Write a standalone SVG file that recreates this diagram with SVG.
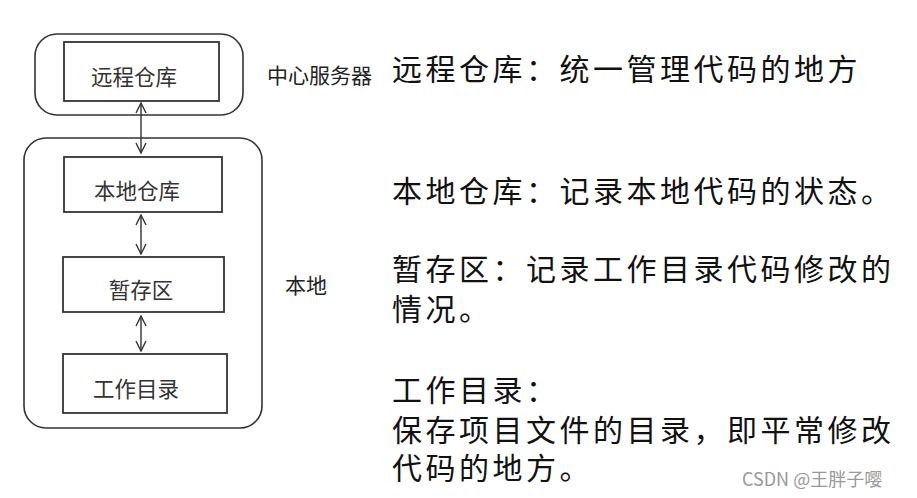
<svg xmlns="http://www.w3.org/2000/svg" width="917" height="498" viewBox="0 0 917 498">
<style>
.grp{fill:none;stroke:#333;stroke-width:1.6}
.box{fill:#fff;stroke:#333;stroke-width:1.8}
.bt{font-family:"Noto Sans CJK SC",sans-serif;font-size:21.5px;fill:#333;text-anchor:middle}
.lb{font-family:"Noto Sans CJK SC",sans-serif;font-size:21px;fill:#222}
.desc{font-family:"Liberation Serif","Noto Sans CJK SC",serif;font-size:30px;fill:#111;letter-spacing:3.5px}
.wm{font-family:"Noto Sans CJK SC",sans-serif;font-size:18px;fill:#999}
.con{stroke:#333;stroke-width:1.4;fill:none;marker-start:url(#ah);marker-end:url(#ah)}
</style>
<defs>
<marker id="ah" viewBox="0 0 12 12" refX="11" refY="6" markerWidth="12" markerHeight="12" markerUnits="userSpaceOnUse" orient="auto-start-reverse">
<polyline points="1,1 11,6 1,11" fill="none" stroke="#333" stroke-width="1.4"/>
</marker>
</defs>
<rect width="917" height="498" fill="#fff"/>
<g id="server">
<rect class="grp" x="35" y="34" width="208" height="81" rx="22"/>
<text class="lb" x="267" y="83">中心服务器</text>
</g>
<g id="local">
<rect class="grp" x="24" y="138" width="238" height="290" rx="22"/>
<text class="lb" x="285" y="293">本地</text>
</g>
<g id="remote-repo">
<rect class="box" x="64" y="42" width="155" height="59"/>
<text class="bt" x="134" y="85">远程仓库</text>
</g>
<g id="local-repo">
<rect class="box" x="64" y="157" width="158" height="55"/>
<text class="bt" x="137" y="199">本地仓库</text>
</g>
<g id="staging">
<rect class="box" x="63" y="257" width="161" height="55"/>
<text class="bt" x="141" y="298">暂存区</text>
</g>
<g id="workdir">
<rect class="box" x="63" y="354" width="164" height="59"/>
<text class="bt" x="136" y="397">工作目录</text>
</g>
<g id="connectors">
<line class="con" x1="141" y1="103" x2="141" y2="153"/>
<line class="con" x1="141" y1="215" x2="141" y2="254"/>
<line class="con" x1="141" y1="316" x2="141" y2="351"/>
</g>
<g id="descriptions">
<text class="desc" x="392" y="80">远程仓库：统一管理代码的地方</text>
<text class="desc" x="392" y="202">本地仓库：记录本地代码的状态。</text>
<text class="desc" x="392" y="280">暂存区：记录工作目录代码修改的</text>
<text class="desc" x="392" y="320">情况。</text>
<text class="desc" x="392" y="401">工作目录：</text>
<text class="desc" x="392" y="441">保存项目文件的目录，即平常修改</text>
<text class="desc" x="392" y="479">代码的地方。</text>
</g>
<text class="wm" x="742" y="486">CSDN @王胖子嘤</text>
</svg>
